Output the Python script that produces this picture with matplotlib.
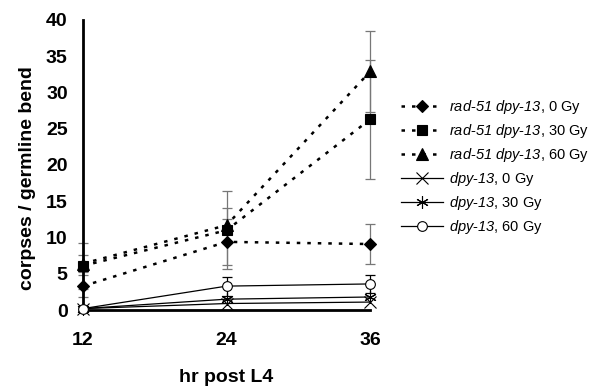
import matplotlib
matplotlib.use("Agg")
import matplotlib.pyplot as plt
from matplotlib.lines import Line2D

plt.rcParams['font.family'] = ['Liberation Sans', 'DejaVu Sans']
# math text is only used for the italic gene names in the legend
plt.rcParams['mathtext.fontset'] = 'custom'
plt.rcParams['mathtext.rm'] = 'Liberation Sans:italic'
plt.rcParams['mathtext.it'] = 'Liberation Sans:italic'

# data
hours = [12, 24, 36]

rad_0 = [3.3, 9.4, 9.1]
rad_0_err = [1.5, 3.2, 2.8]
rad_30 = [6.1, 11.0, 26.3]
rad_30_err = [3.2, 5.4, 8.2]
rad_60 = [6.4, 11.7, 32.9]
rad_60_err = [1.2, 2.4, 5.6]

dpy_0 = [0.2, 0.9, 1.1]
dpy_30 = [0.2, 1.5, 1.8]
dpy_60 = [0.2, 3.3, 3.6]
dpy_60_err = [0.3, 1.3, 1.2]

rad_label = r'$rad$-$51\ dpy$-$13$, '
dpy_label = r'$dpy$-$13$, '

fig = plt.figure(figsize=(6.1, 3.9), dpi=100)
ax = fig.add_axes([0.136, 0.205, 0.471, 0.744])

dotted = (0, (1.4, 2.8))

# (values, errors, marker, size, face, line style, line width, label)
series = [
    (rad_0, rad_0_err, 'D', 6.5, 'black', dotted, 1.8, rad_label + '0 Gy'),
    (rad_30, rad_30_err, 's', 7, 'black', dotted, 1.8, rad_label + '30 Gy'),
    (rad_60, rad_60_err, '^', 8, 'black', dotted, 1.8, rad_label + '60 Gy'),
    (dpy_0, None, 'x', 8, 'black', '-', 0.9, dpy_label + '0 Gy'),
    (dpy_30, None, (6, 2, 0), 9, 'black', '-', 0.9, dpy_label + '30 Gy'),
    (dpy_60, dpy_60_err, 'o', 7, 'white', '-', 0.9, dpy_label + '60 Gy'),
]

handles = []
for vals, errs, mk, ms, fc, ls, lw, lab in series:
    if errs is not None:
        ecol = '#777777' if ls is dotted else 'black'
        ax.errorbar(hours, vals, yerr=errs, fmt='none', ecolor=ecol,
                    elinewidth=0.9, capsize=3.5, capthick=0.9, clip_on=False)
    ax.plot(hours, vals, color='black', lw=lw, ls=ls, marker=mk, ms=ms,
            mfc=fc, mew=0.8, clip_on=False, zorder=3)
    handles.append(Line2D([], [], color='black', lw=lw, ls=ls, marker=mk,
                          ms=ms, mfc=fc, mew=0.8, label=lab))

ax.set_xlim(12, 36)
ax.set_ylim(0, 40)
ax.set_xticks(hours)
ax.set_yticks(range(0, 41, 5))
ax.tick_params(length=0, labelsize=14, pad=11)
ax.tick_params(axis='x', pad=16)
for lab in ax.get_xticklabels() + ax.get_yticklabels():
    lab.set_fontweight('bold')

for side in ['top', 'right']:
    ax.spines[side].set_visible(False)
ax.spines['left'].set_linewidth(2)
ax.spines['bottom'].set_linewidth(2)

ax.set_xlabel('hr post L4', fontsize=14, fontweight='bold', labelpad=14)
ax.set_ylabel('corpses / germline bend', fontsize=14, fontweight='bold')
ax.yaxis.set_label_coords(-0.165, 0.455)

fig.legend(handles=handles, loc='upper left', bbox_to_anchor=(0.645, 0.768),
           frameon=False, fontsize=10.5, handlelength=2.9, handletextpad=0.4,
           labelspacing=0.42, borderpad=0)

fig.savefig('out.png', dpi=100)
